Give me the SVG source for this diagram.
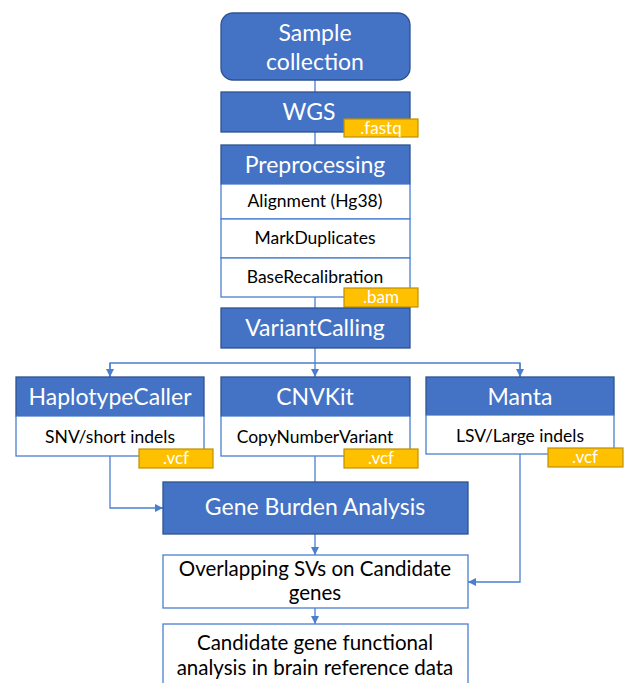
<svg xmlns="http://www.w3.org/2000/svg" width="625" height="683" viewBox="0 0 625 683">
<defs>
<style>
.hdr{fill:#4472C4;stroke:#2F528F;stroke-width:1.3}
.row{fill:#FFFFFF;stroke:#4A7FD0;stroke-width:1.3}
.badge{fill:#FFC000;stroke:#BF9000;stroke-width:1.2}
.tw{font-family:Lato,"Liberation Sans",sans-serif;fill:#FFFFFF;text-anchor:middle}
.tb{font-family:Lato,"Liberation Sans",sans-serif;fill:#000000;text-anchor:middle}
.big{font-size:23px}
.mid{font-size:20.5px}
.sm{font-size:17.5px}
.bd{font-size:17px}
.conn{fill:none;stroke:#4A7FD0;stroke-width:1.3}
</style>
<marker id="arr" viewBox="0 0 10 10" refX="10" refY="5" markerWidth="8" markerHeight="8" markerUnits="userSpaceOnUse" orient="auto">
<path d="M0,0 L10,5 L0,10 Z" fill="#4A7FD0"/>
</marker>
</defs>
<rect width="625" height="683" fill="#FFFFFF"/>
<g id="connectors">
<line class="conn" x1="315" y1="80" x2="315" y2="92"/>
<line class="conn" x1="315" y1="132" x2="315" y2="145"/>
<line class="conn" x1="315" y1="297" x2="315" y2="308"/>
<line class="conn" x1="315" y1="348" x2="315" y2="377" marker-end="url(#arr)"/>
<polyline class="conn" points="110,377 110,363 520,363 520,377"/>
<line class="conn" x1="110" y1="363" x2="110" y2="377" marker-end="url(#arr)"/>
<line class="conn" x1="520" y1="363" x2="520" y2="377" marker-end="url(#arr)"/>
<polyline class="conn" points="110,456 110,508 163,508" marker-end="url(#arr)"/>
<line class="conn" x1="315" y1="456" x2="315" y2="482"/>
<line class="conn" x1="315" y1="534" x2="315" y2="555" marker-end="url(#arr)"/>
<polyline class="conn" points="520,454 520,582 468,582" marker-end="url(#arr)"/>
<line class="conn" x1="315" y1="608" x2="315" y2="624" marker-end="url(#arr)"/>
</g>
<g id="sample">
<rect class="hdr" x="221" y="13" width="189" height="67" rx="12"/>
<text class="tw big" x="315" y="41">Sample</text>
<text class="tw big" x="315" y="70">collection</text>
</g>
<g id="wgs">
<rect class="hdr" x="221" y="92" width="189" height="40"/>
<text class="tw big" x="309" y="120">WGS</text>
<rect class="badge" x="344" y="119" width="74" height="18"/>
<text class="tw bd" x="381" y="134">.fastq</text>
</g>
<g id="preprocessing">
<rect class="hdr" x="221" y="145" width="189" height="39"/>
<text class="tw big" x="315" y="173">Preprocessing</text>
<rect class="row" x="221" y="184" width="189" height="35"/>
<text class="tb sm" x="315" y="207">Alignment (Hg38)</text>
<rect class="row" x="221" y="219" width="189" height="39"/>
<text class="tb sm" x="315" y="244">MarkDuplicates</text>
<rect class="row" x="221" y="258" width="189" height="39"/>
<text class="tb sm" x="315" y="283">BaseRecalibration</text>
<rect class="badge" x="344" y="288" width="74" height="19"/>
<text class="tw bd" x="381" y="303">.bam</text>
</g>
<g id="variantcalling">
<rect class="hdr" x="221" y="308" width="189" height="40"/>
<text class="tw big" x="315" y="336">VariantCalling</text>
</g>
<g id="haplotypecaller">
<rect class="hdr" x="16" y="377" width="188" height="39"/>
<text class="tw big" x="110" y="405">HaplotypeCaller</text>
<rect class="row" x="16" y="416" width="188" height="40"/>
<text class="tb sm" x="110" y="443">SNV/short indels</text>
<rect class="badge" x="139" y="449" width="74" height="19"/>
<text class="tw bd" x="176" y="464">.vcf</text>
</g>
<g id="cnvkit">
<rect class="hdr" x="221" y="377" width="189" height="39"/>
<text class="tw big" x="315" y="405">CNVKit</text>
<rect class="row" x="221" y="416" width="189" height="40"/>
<text class="tb sm" x="315" y="443">CopyNumberVariant</text>
<rect class="badge" x="344" y="449" width="74" height="19"/>
<text class="tw bd" x="381" y="464">.vcf</text>
</g>
<g id="manta">
<rect class="hdr" x="426" y="377" width="188" height="38"/>
<text class="tw big" x="520" y="405">Manta</text>
<rect class="row" x="426" y="415" width="188" height="39"/>
<text class="tb sm" x="520" y="442">LSV/Large indels</text>
<rect class="badge" x="548" y="448" width="75" height="19"/>
<text class="tw bd" x="585" y="463">.vcf</text>
</g>
<g id="geneburden">
<rect class="hdr" x="163" y="482" width="305" height="52"/>
<text class="tw big" x="315" y="515">Gene Burden Analysis</text>
</g>
<g id="overlapping">
<rect class="row" x="163" y="555" width="305" height="53"/>
<text class="tb mid" x="315" y="576">Overlapping SVs on Candidate</text>
<text class="tb mid" x="315" y="600">genes</text>
</g>
<g id="candidate">
<rect class="row" x="163" y="624" width="305" height="70"/>
<text class="tb mid" x="315" y="650">Candidate gene functional</text>
<text class="tb mid" x="315" y="675">analysis in brain reference data</text>
</g>
</svg>
